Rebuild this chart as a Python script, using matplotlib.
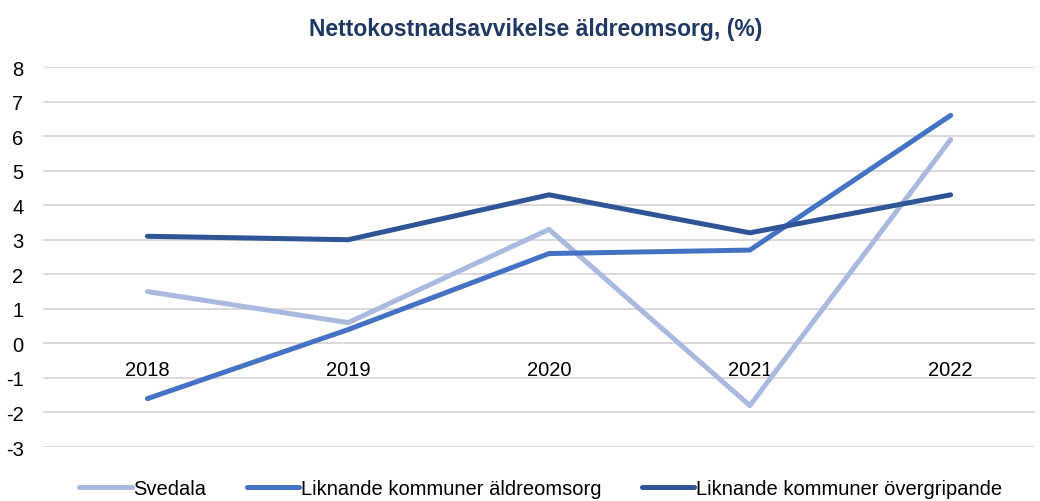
import matplotlib
matplotlib.use("Agg")
import matplotlib.pyplot as plt

# data
years = ["2018", "2019", "2020", "2021", "2022"]
svedala = [1.5, 0.6, 3.3, -1.8, 5.9]
liknande_aldre = [-1.6, 0.4, 2.6, 2.7, 6.6]
liknande_overgr = [3.1, 3.0, 4.3, 3.2, 4.3]

plt.rcParams['font.family'] = ['Liberation Sans', 'DejaVu Sans']
plt.rcParams['axes.unicode_minus'] = False

fig = plt.figure(figsize=(10.4, 5.02), dpi=100)
ax = fig.add_axes([43 / 1040, 54 / 502, 992 / 1040, 380 / 502])

x = list(range(len(years)))
ax.plot(x, svedala, color='#A9B9E0', lw=3.6, label='Svedala', solid_capstyle='round')
ax.plot(x, liknande_aldre, color='#4472C4', lw=3.6, label='Liknande kommuner äldreomsorg', solid_capstyle='round')
ax.plot(x, liknande_overgr, color='#2F5597', lw=3.6, label='Liknande kommuner övergripande', solid_capstyle='round')

ax.set_ylim(-3, 8)
ax.set_xlim(-0.52, 4.42)
ax.set_yticks(range(-3, 9))
ax.set_xticks(x)
ax.set_xticklabels(years)
ax.grid(axis='y', color='#D9D9D9', lw=1.4)
ax.set_axisbelow(True)
for s in ax.spines.values():
    s.set_visible(False)
ax.spines['bottom'].set_position(('data', 0))
ax.tick_params(axis='both', length=0, labelsize=14.5, colors='#000000')
ax.tick_params(axis='x', pad=12)
ax.tick_params(axis='y', pad=14)

fig.suptitle('Nettokostnadsavvikelse äldreomsorg, (%)', x=0.515, y=0.965,
             fontsize=16.5, fontweight='bold', color='#1F3864')

fig.legend(loc='lower center', bbox_to_anchor=(0.52, -0.03), ncol=3, frameon=False,
           fontsize=14.5, handlelength=2.6, handletextpad=0.1, columnspacing=2.0)

fig.savefig('out.png', dpi=100)
